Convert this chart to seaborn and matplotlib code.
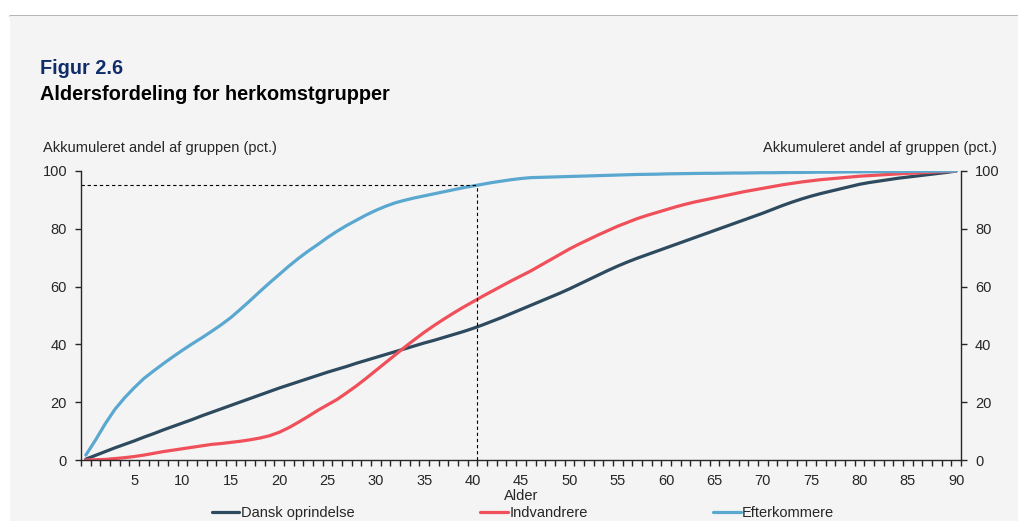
import numpy as np
import pandas as pd
import matplotlib
matplotlib.use("Agg")
import matplotlib.pyplot as plt
from matplotlib.patches import Rectangle
from matplotlib.lines import Line2D
import seaborn as sns

# data (cumulative share by age, pct.)
ages = list(range(0, 91))

dansk = [0.3, 1.6, 2.9, 4.2, 5.4, 6.6, 7.9, 9.1, 10.4, 11.6,
         12.8, 14.0, 15.3, 16.5, 17.7, 18.9, 20.1, 21.3, 22.5, 23.7,
         24.9, 26.0, 27.1, 28.2, 29.3, 30.4, 31.4, 32.4, 33.5, 34.5,
         35.5, 36.5, 37.5, 38.5, 39.5, 40.5, 41.4, 42.4, 43.4, 44.4,
         45.5, 46.7, 48.0, 49.3, 50.7, 52.1, 53.5, 54.9, 56.3, 57.7,
         59.2, 60.8, 62.4, 64.0, 65.6, 67.1, 68.5, 69.8, 71.0, 72.2,
         73.4, 74.6, 75.8, 77.0, 78.2, 79.4, 80.6, 81.8, 83.0, 84.2,
         85.4, 86.7, 88.0, 89.2, 90.3, 91.3, 92.2, 93.0, 93.8, 94.6,
         95.4, 96.0, 96.5, 97.0, 97.5, 97.9, 98.3, 98.7, 99.1, 99.5,
         100.0]

indvandrere = [0.0, 0.1, 0.2, 0.5, 0.8, 1.2, 1.7, 2.3, 2.9, 3.4,
               3.9, 4.4, 4.9, 5.4, 5.7, 6.1, 6.5, 7.0, 7.6, 8.4,
               9.6, 11.2, 13.1, 15.1, 17.2, 19.1, 21.0, 23.3, 25.7, 28.3,
               31.0, 33.7, 36.4, 39.1, 41.7, 44.2, 46.5, 48.7, 50.8, 52.8,
               54.7, 56.6, 58.4, 60.2, 62.0, 63.7, 65.4, 67.3, 69.2, 71.1,
               73.0, 74.7, 76.3, 77.9, 79.4, 80.9, 82.2, 83.5, 84.6, 85.6,
               86.6, 87.6, 88.5, 89.3, 90.0, 90.7, 91.4, 92.1, 92.8, 93.4,
               94.0, 94.6, 95.2, 95.7, 96.2, 96.6, 97.0, 97.3, 97.6, 97.9,
               98.2, 98.4, 98.6, 98.8, 99.0, 99.2, 99.3, 99.5, 99.7, 99.8,
               100.0]

efterkommere = [1.7, 6.9, 12.5, 17.5, 21.5, 25.0, 28.2, 30.8, 33.3, 35.7,
                38.0, 40.2, 42.3, 44.5, 46.8, 49.3, 52.2, 55.2, 58.3, 61.3,
                64.2, 67.1, 69.8, 72.3, 74.6, 77.0, 79.2, 81.2, 83.0, 84.8,
                86.4, 87.8, 89.0, 89.9, 90.7, 91.4, 92.1, 92.8, 93.5, 94.2,
                94.8, 95.4, 96.0, 96.5, 97.0, 97.4, 97.7, 97.8, 97.9, 98.0,
                98.1, 98.2, 98.3, 98.4, 98.5, 98.6, 98.7, 98.8, 98.85, 98.9,
                99.0, 99.05, 99.1, 99.15, 99.2, 99.2, 99.25, 99.3, 99.3, 99.35,
                99.4, 99.4, 99.45, 99.5, 99.5, 99.55, 99.6, 99.6, 99.65, 99.7,
                99.7, 99.75, 99.75, 99.8, 99.8, 99.85, 99.9, 99.9, 99.95, 100.0,
                100.0]

groups = ["Dansk oprindelse", "Indvandrere", "Efterkommere"]
colors = ["#2e4a5e", "#f0505a", "#5aa8d0"]
ref_age = 40.5
ref_share = 95

df = pd.DataFrame({
    "Alder": ages * 3,
    "Andel": dansk + indvandrere + efterkommere,
    "Gruppe": [groups[0]] * 91 + [groups[1]] * 91 + [groups[2]] * 91,
})

sns.set_style("ticks")
plt.rcParams["font.family"] = ["Liberation Sans", "DejaVu Sans"]
plt.rcParams["axes.linewidth"] = 1.0

fig = plt.figure(figsize=(10.18, 5.21), dpi=100)
fig.patch.set_facecolor("white")

# grey panel with a thin top border, kept behind the axes
fig.patches.append(Rectangle((10 / 1018, 0), 1 - 10 / 1018, 1 - 16 / 521,
                             transform=fig.transFigure, facecolor="#f4f4f4",
                             edgecolor="none", zorder=-10))
fig.lines.append(Line2D([10 / 1018, 1], [1 - 16 / 521, 1 - 16 / 521],
                        transform=fig.transFigure, color="#a8a8a8", lw=1.2,
                        zorder=-10))

ax = fig.add_axes([81 / 1018, 1 - 460 / 521, 880 / 1018, 289 / 521])
ax.set_facecolor("none")

sns.lineplot(data=df, x="Alder", y="Andel", hue="Gruppe", hue_order=groups,
             palette=colors, linewidth=2.3, ax=ax, legend=False)

# reference lines at 95 pct.
ax.plot([-0.5, ref_age], [ref_share, ref_share], color="black", lw=0.8,
        dashes=(3, 2.5))
ax.plot([ref_age, ref_age], [0, ref_share], color="black", lw=0.8,
        dashes=(3, 2.5))

ax.set_xlim(-0.5, 90.5)
ax.set_ylim(0, 100)
ax.set_xticks(range(5, 91, 5))
ax.set_xticks(np.arange(-0.5, 91, 1), minor=True)
ax.tick_params(axis="x", which="major", length=0, pad=10, labelsize=10.5)
ax.tick_params(axis="x", which="minor", length=4, width=1, direction="out")
ax.set_yticks(range(0, 101, 20))
ax.tick_params(axis="y", length=4, width=1, direction="out", pad=6,
               labelsize=10.5)
ax.set_xlabel("Alder", fontsize=10.5, labelpad=1)
ax.set_ylabel("")
for s in ["top", "right"]:
    ax.spines[s].set_visible(False)

ax2 = ax.twinx()
ax2.set_ylim(0, 100)
ax2.set_yticks(range(0, 101, 20))
ax2.tick_params(axis="y", length=4, width=1, direction="out", pad=6,
                labelsize=10.5)
for s in ["top", "left", "bottom"]:
    ax2.spines[s].set_visible(False)

fig.text(40 / 1018, 1 - 68 / 521, "Figur 2.6", fontsize=14.3, fontweight="bold",
         color="#0f2d6b", va="center", ha="left")
fig.text(40 / 1018, 1 - 95 / 521, "Aldersfordeling for herkomstgrupper",
         fontsize=14.3, fontweight="bold", color="black", va="center", ha="left")
fig.text(43 / 1018, 1 - 148 / 521, "Akkumuleret andel af gruppen (pct.)",
         fontsize=10.5, va="center", ha="left")
fig.text(997 / 1018, 1 - 148 / 521, "Akkumuleret andel af gruppen (pct.)",
         fontsize=10.5, va="center", ha="right")

handles = [Line2D([], [], color=c, lw=2.3) for c in colors]
fig.legend(handles, groups, loc="center", bbox_to_anchor=(523 / 1018, 1 - 513 / 521),
           ncol=3, frameon=False, fontsize=10.5, handlelength=1.9,
           handletextpad=0.1, columnspacing=8.6, borderpad=0)

fig.savefig("out.png", dpi=100)
